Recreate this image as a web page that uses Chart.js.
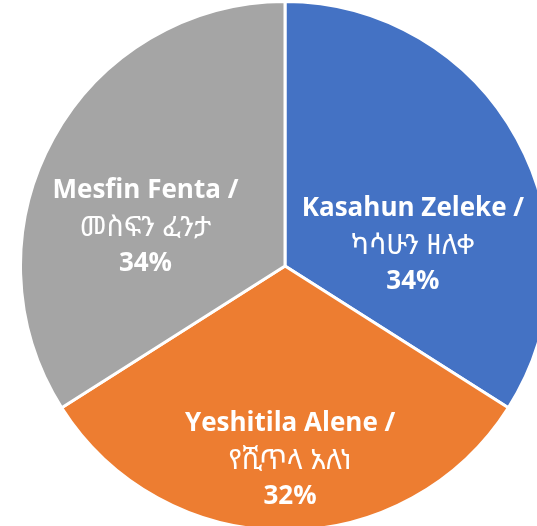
<!DOCTYPE html>
<html>
<head>
<meta charset="utf-8">
<script src="https://cdn.jsdelivr.net/npm/chart.js@4"></script>
<style>
  html, body { margin: 0; padding: 0; background: #fff; overflow: hidden; }
  #wrap { position: absolute; left: 0; top: 0; }
</style>
</head>
<body>
<div id="wrap"><canvas id="pieChart" width="570" height="532"></canvas></div>
<script>
const names = ['Kasahun Zeleke /', 'Yeshitila Alene /', 'Mesfin Fenta /'];
const namesAmharic = ['ካሳሁን ዘለቀ', 'የሺጥላ አለነ', 'መስፍን ፈንታ'];
const shares = [34, 32, 34];
const sliceColors = ['#4472C4', '#ED7D31', '#A5A5A5'];

// where each label sits inside its slice: angle shift (deg) and share of radius
const labelPlacement = [
    { turn: 19.4, frac: 0.49 },
    { turn: -1.5, frac: 0.734 },
    { turn: -13.1, frac: 0.548 }
];

const latinFont = 'bold 26px "Open Sans", Lato, sans-serif';
const ethiopicFont = '28px "Noto Sans Ethiopic", "Abyssinica SIL", "DejaVu Sans", sans-serif';

const sliceLabels = {
    id: 'sliceLabels',
    afterDatasetsDraw(chart) {
        const ctx = chart.ctx;
        const arcs = chart.getDatasetMeta(0).data;
        ctx.save();
        ctx.fillStyle = '#fff';
        ctx.textAlign = 'center';
        ctx.textBaseline = 'middle';
        arcs.forEach((arc, i) => {
            const p = arc.getProps(['x', 'y', 'startAngle', 'endAngle', 'outerRadius'], true);
            const place = labelPlacement[i];
            const mid = (p.startAngle + p.endAngle) / 2 + place.turn * Math.PI / 180;
            const cx = p.x + Math.cos(mid) * p.outerRadius * place.frac;
            const cy = p.y + Math.sin(mid) * p.outerRadius * place.frac;
            ctx.font = latinFont;
            ctx.fillText(names[i], cx, cy - 36);
            ctx.font = ethiopicFont;
            ctx.fillText(namesAmharic[i], cx, cy + 1);
            ctx.font = latinFont;
            ctx.fillText(shares[i] + '%', cx, cy + 37);
        });
        ctx.restore();
    }
};

const chart = new Chart(document.getElementById('pieChart'), {
    type: 'pie',
    data: {
        labels: names.map((n, i) => n + ' ' + namesAmharic[i]),
        datasets: [{
            data: shares,
            backgroundColor: sliceColors,
            borderColor: '#ffffff',
            borderWidth: 3
        }]
    },
    options: {
        responsive: false,
        animation: false,
        layout: { padding: 0 },
        plugins: {
            legend: { display: false },
            tooltip: { enabled: false }
        }
    },
    plugins: [sliceLabels]
});
</script>
</body>
</html>
